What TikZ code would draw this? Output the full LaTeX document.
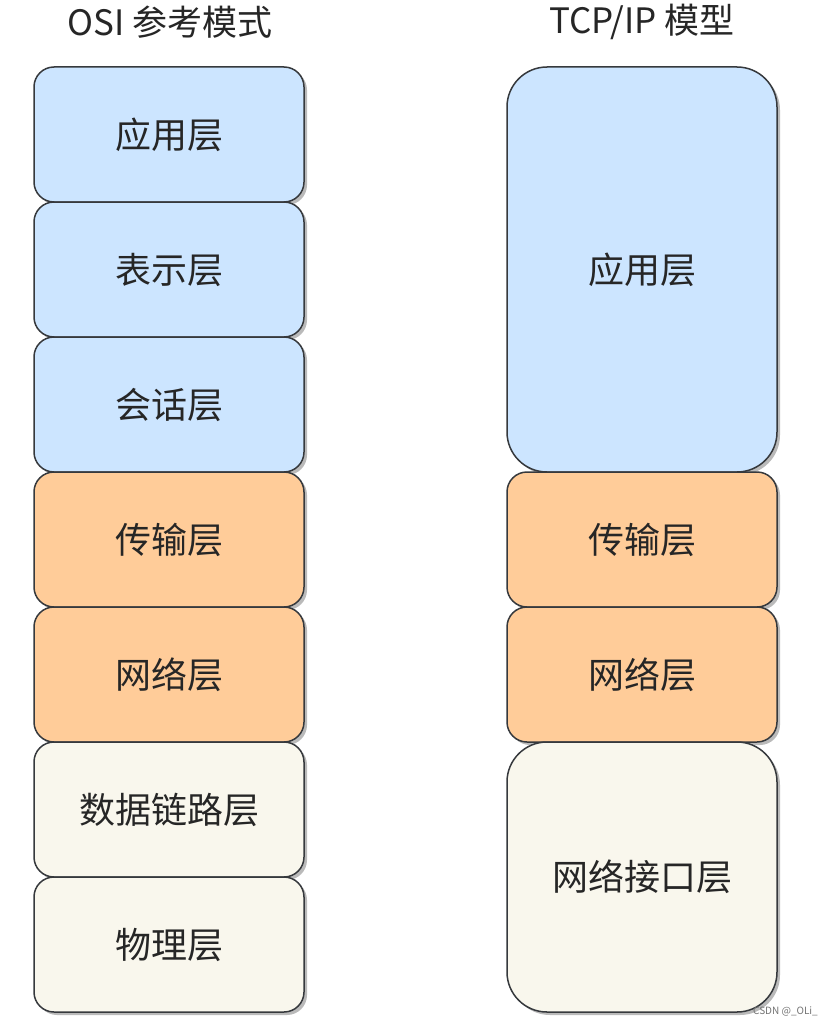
\documentclass[tikz,border=0pt]{standalone}
\usepackage{fontspec}
\setmainfont{Noto Sans CJK SC}
\usetikzlibrary{shadows}
\definecolor{cblue}{HTML}{CCE5FF}
\definecolor{corange}{HTML}{FFCC99}
\definecolor{cbeige}{HTML}{F9F7ED}
\definecolor{cstroke}{HTML}{36393D}
\tikzset{
  layer/.style={draw=cstroke, line width=1.5pt, rectangle, outer sep=0pt, inner sep=0pt,
    minimum width=270pt, rounded corners=20pt,
    font=\fontsize{36}{42}\selectfont, text=black!85,
    drop shadow={shadow xshift=3pt, shadow yshift=-3pt, opacity=0.45, fill=black!60}},
  small/.style={layer, minimum height=135pt},
  big/.style={layer, rounded corners=40pt},
  title/.style={font=\fontsize{35}{40}\selectfont, text=black!85, inner sep=0pt},
  wmark/.style={font=\fontsize{10}{12}\selectfont, text=black!55, inner sep=0pt}
}
\begin{document}
\begin{tikzpicture}[x=1pt, y=-1pt]
\useasboundingbox[fill=white] (0,0) rectangle (836,1025);
\node[title] (t1) at (170,22) {OSI 参考模式};
\node[title] (t2) at (642,22) {TCP/IP 模型};
% OSI
\node[small, fill=cblue]   (o1) at (169,134.5) {应用层};
\node[small, fill=cblue]   (o2) at (169,269.5) {表示层};
\node[small, fill=cblue]   (o3) at (169,404.5) {会话层};
\node[small, fill=corange] (o4) at (169,539.5) {传输层};
\node[small, fill=corange] (o5) at (169,674.5) {网络层};
\node[small, fill=cbeige]  (o6) at (169,809.5) {数据链路层};
\node[small, fill=cbeige]  (o7) at (169,944.5) {物理层};
% TCP/IP
\node[big, fill=cblue, minimum height=405pt] (p1) at (642,269.5) {应用层};
\node[small, fill=corange] (p2) at (642,539.5) {传输层};
\node[small, fill=corange] (p3) at (642,674.5) {网络层};
\node[big, fill=cbeige, minimum height=270pt] (p4) at (642,877) {网络接口层};
\node[wmark, anchor=east] (wm) at (818,1011) {CSDN @\_OLi\_};
\end{tikzpicture}
\end{document}
